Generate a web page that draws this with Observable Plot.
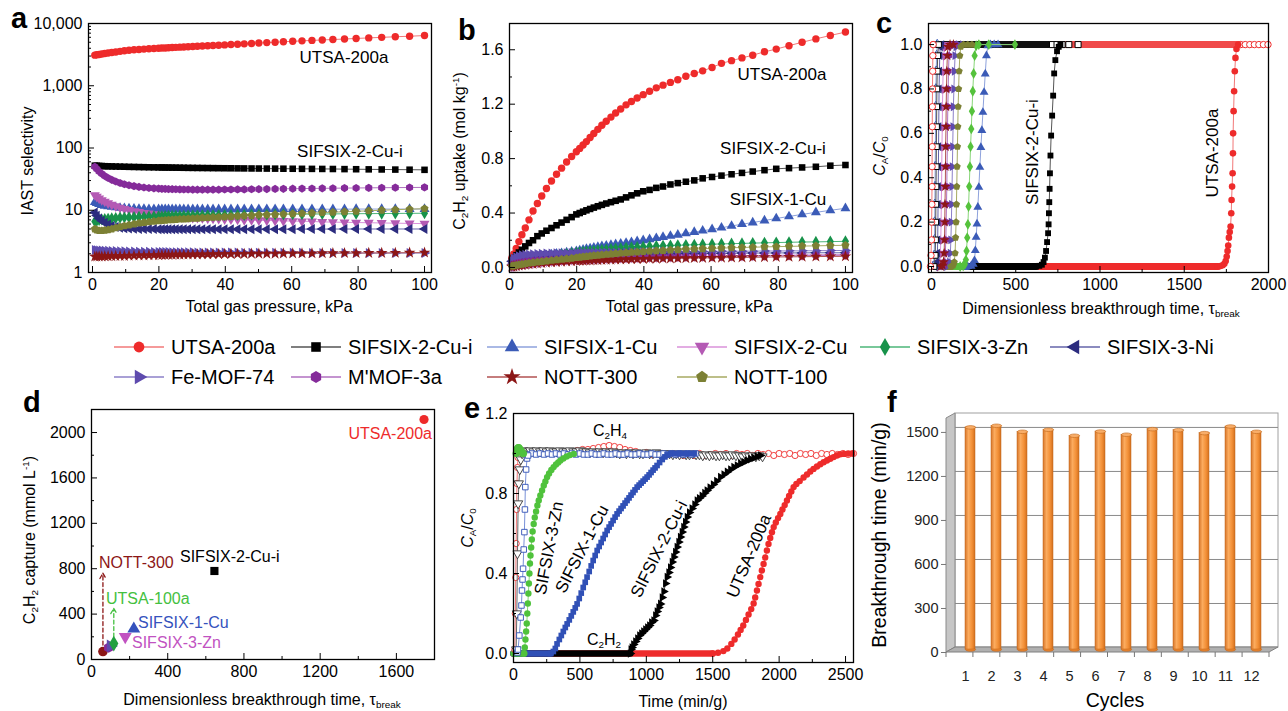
<!DOCTYPE html>
<html>
<head>
<meta charset="utf-8">
<script src="https://cdn.jsdelivr.net/npm/d3@7"></script>
<script src="https://cdn.jsdelivr.net/npm/@observablehq/plot@0.6"></script>
<style>
  html, body { margin: 0; padding: 0; background: #fff; }
  #fig { position: relative; width: 1288px; height: 711px; overflow: hidden;
         font-family: "Liberation Sans", Arial, Helvetica, sans-serif; color: #000; }
  .panel { position: absolute; }
  .panel svg { overflow: visible; }
  .lab { position: absolute; white-space: nowrap; line-height: 1; }
  .lab sub { font-size: 0.62em; vertical-align: -0.28em; line-height: 0; }
  .lab sup { font-size: 0.62em; vertical-align: 0.62em; line-height: 0; }
</style>
</head>
<body>
<div id="fig"></div>
<script>
// ---------------------------------------------------------------------------
// Materials shown in panels a-c and the legend
const materials = ["UTSA-200a", "SIFSIX-2-Cu-i", "SIFSIX-1-Cu", "SIFSIX-2-Cu", "SIFSIX-3-Zn",
                   "SIFSIX-3-Ni", "Fe-MOF-74", "M'MOF-3a", "NOTT-300", "NOTT-100"];

// Total gas pressure grid (kPa) used by the IAST calculations (panels a, b)
const pressure = [0.7, 1.3, 2, 2.8, 3.7, 4.7, 5.8, 7, 8.3, 9.6,
  11, 12.5, 14, 15.5, 17, 18.5, 19.9, 20.9, 21.9, 22.9,
  24, 25.1, 26.3, 27.5, 28.8, 30.2, 31.6, 33.1, 34.7, 36.3,
  38, 39.8, 41.7, 43.7, 45.7, 47.9, 50.1, 52.5, 55, 57.5,
  60.3, 63.1, 66.1, 69.2, 72.4, 75.9, 79.4, 83.2, 87.1, 91.2,
  95.5, 100];

// Panel a: IAST C2H2/C2H4 selectivity
const selectivityUTSA200a = [3100, 3140, 3180, 3230, 3290, 3350, 3420, 3490, 3570, 3650,
  3720, 3780, 3830, 3880, 3920, 3960, 4000, 4030, 4050, 4080,
  4110, 4140, 4170, 4200, 4230, 4270, 4310, 4350, 4390, 4430,
  4480, 4530, 4590, 4650, 4710, 4780, 4850, 4930, 5010, 5090,
  5180, 5260, 5350, 5440, 5530, 5630, 5750, 5870, 5990, 6120,
  6250, 6400];
const selectivitySIFSIX2Cui = [52, 51.8, 51.5, 51.3, 51, 50.8, 50.6, 50.4, 50.2, 50,
  49.8, 49.6, 49.4, 49.2, 49, 48.9, 48.8, 48.7, 48.6, 48.5,
  48.4, 48.3, 48.2, 48.1, 48, 47.9, 47.8, 47.7, 47.6, 47.5,
  47.4, 47.3, 47.2, 47.1, 47, 46.9, 46.8, 46.7, 46.6, 46.5,
  46.4, 46.3, 46.2, 46.1, 46, 45.8, 45.6, 45.4, 45.2, 45,
  44.8, 44.6];
const selectivitySIFSIX1Cu = [13.5, 13, 12.5, 12.1, 11.8, 11.5, 11.3, 11.1, 10.9, 10.8,
  10.7, 10.6, 10.5, 10.5, 10.4, 10.4, 10.4, 10.4, 10.4, 10.4,
  10.35, 10.35, 10.35, 10.35, 10.35, 10.35, 10.35, 10.35, 10.35, 10.35,
  10.35, 10.35, 10.35, 10.35, 10.4, 10.4, 10.4, 10.4, 10.4, 10.4,
  10.4, 10.4, 10.4, 10.4, 10.4, 10.4, 10.45, 10.45, 10.45, 10.45,
  10.45, 10.45];
const selectivitySIFSIX2Cu = [17.5, 16.5, 15.5, 14.6, 13.8, 13, 12.3, 11.6, 11, 10.5,
  10.1, 9.7, 9.4, 9.1, 8.9, 8.7, 8.5, 8.4, 8.3, 8.2,
  8.1, 8, 7.9, 7.8, 7.7, 7.6, 7.55, 7.5, 7.4, 7.35,
  7.3, 7.2, 7.15, 7.1, 7, 6.95, 6.9, 6.85, 6.8, 6.75,
  6.7, 6.65, 6.6, 6.5, 6.45, 6.4, 6.35, 6.3, 6.25, 6.2,
  6.15, 6.1];
const selectivitySIFSIX3Zn = [6.6, 6.8, 7, 7.1, 7.2, 7.3, 7.4, 7.5, 7.6, 7.65,
  7.7, 7.75, 7.8, 7.85, 7.9, 7.95, 8, 8, 8.02, 8.05,
  8.07, 8.1, 8.12, 8.15, 8.17, 8.2, 8.22, 8.25, 8.28, 8.3,
  8.33, 8.36, 8.39, 8.42, 8.45, 8.48, 8.5, 8.53, 8.56, 8.59,
  8.62, 8.65, 8.68, 8.71, 8.74, 8.77, 8.8, 8.83, 8.86, 8.89,
  8.92, 8.95];
const selectivitySIFSIX3Ni = [9.2, 8.2, 7.4, 6.8, 6.3, 5.9, 5.6, 5.4, 5.25, 5.15,
  5.1, 5.05, 5, 5, 5, 4.98, 4.97, 4.96, 4.95, 4.95,
  4.95, 4.95, 4.95, 4.95, 4.95, 4.95, 4.95, 4.95, 4.95, 4.95,
  4.95, 4.95, 4.95, 4.95, 4.95, 4.96, 4.96, 4.96, 4.97, 4.97,
  4.97, 4.98, 4.98, 4.98, 4.99, 4.99, 5, 5, 5, 5,
  5, 5];
const selectivityFeMOF74 = [2.3, 2.28, 2.26, 2.25, 2.24, 2.23, 2.22, 2.21, 2.2, 2.19,
  2.18, 2.17, 2.16, 2.15, 2.15, 2.14, 2.14, 2.13, 2.13, 2.13,
  2.12, 2.12, 2.12, 2.11, 2.11, 2.11, 2.1, 2.1, 2.1, 2.1,
  2.09, 2.09, 2.09, 2.09, 2.08, 2.08, 2.08, 2.08, 2.07, 2.07,
  2.07, 2.07, 2.06, 2.06, 2.06, 2.06, 2.06, 2.05, 2.05, 2.05,
  2.05, 2.05];
const selectivityMMOF3a = [50, 46, 42, 38.5, 35.5, 33, 30.8, 29, 27.4, 26.2,
  25.2, 24.4, 23.7, 23.2, 22.8, 22.5, 22.3, 22.1, 22, 21.9,
  21.8, 21.7, 21.6, 21.5, 21.5, 21.4, 21.4, 21.4, 21.4, 21.4,
  21.4, 21.5, 21.5, 21.6, 21.6, 21.7, 21.8, 21.9, 22, 22.1,
  22.2, 22.3, 22.4, 22.5, 22.6, 22.7, 22.8, 22.9, 23, 23.1,
  23.2, 23.3];
const selectivityNOTT300 = [1.8, 1.8, 1.81, 1.81, 1.82, 1.82, 1.83, 1.84, 1.85, 1.85,
  1.86, 1.87, 1.88, 1.88, 1.89, 1.9, 1.9, 1.91, 1.91, 1.92,
  1.92, 1.93, 1.93, 1.94, 1.94, 1.95, 1.95, 1.96, 1.96, 1.97,
  1.97, 1.98, 1.98, 1.99, 1.99, 2, 2, 2.01, 2.01, 2.02,
  2.02, 2.03, 2.03, 2.04, 2.04, 2.05, 2.05, 2.06, 2.06, 2.07,
  2.08, 2.09];
const selectivityNOTT100 = [5, 4.8, 4.7, 4.7, 4.75, 4.85, 5, 5.2, 5.4, 5.6,
  5.8, 6, 6.2, 6.35, 6.5, 6.65, 6.75, 6.85, 6.9, 7,
  7.05, 7.1, 7.2, 7.25, 7.3, 7.4, 7.45, 7.55, 7.6, 7.7,
  7.75, 7.85, 7.95, 8.05, 8.15, 8.25, 8.35, 8.45, 8.55, 8.65,
  8.75, 8.9, 9, 9.15, 9.3, 9.45, 9.6, 9.8, 10, 10.2,
  10.4, 10.6];

// Panel b: C2H2 uptake (mol/kg) from the 1/99 C2H2/C2H4 mixture
const uptakeUTSA200a = [0.07, 0.1, 0.14, 0.19, 0.24, 0.29, 0.35, 0.415, 0.47, 0.525,
  0.58, 0.635, 0.685, 0.73, 0.775, 0.815, 0.85, 0.875, 0.9, 0.925,
  0.955, 0.985, 1.015, 1.045, 1.075, 1.105, 1.135, 1.165, 1.195, 1.22,
  1.245, 1.27, 1.295, 1.32, 1.34, 1.36, 1.38, 1.405, 1.425, 1.445,
  1.47, 1.5, 1.52, 1.54, 1.56, 1.585, 1.605, 1.63, 1.655, 1.68,
  1.705, 1.73];
const uptakeSIFSIX2Cui = [0.05, 0.07, 0.09, 0.11, 0.13, 0.155, 0.18, 0.2, 0.23, 0.25,
  0.27, 0.29, 0.31, 0.33, 0.35, 0.37, 0.39, 0.4, 0.41, 0.42,
  0.43, 0.44, 0.45, 0.46, 0.47, 0.48, 0.49, 0.5, 0.515, 0.53,
  0.545, 0.56, 0.57, 0.585, 0.595, 0.61, 0.62, 0.63, 0.64, 0.655,
  0.665, 0.675, 0.685, 0.695, 0.705, 0.715, 0.725, 0.73, 0.735, 0.74,
  0.748, 0.753];
const uptakeSIFSIX1Cu = [0.04, 0.045, 0.05, 0.055, 0.06, 0.065, 0.07, 0.075, 0.08, 0.085,
  0.09, 0.095, 0.1, 0.105, 0.11, 0.115, 0.12, 0.125, 0.13, 0.135,
  0.14, 0.145, 0.15, 0.155, 0.16, 0.165, 0.17, 0.175, 0.18, 0.186,
  0.192, 0.2, 0.207, 0.215, 0.223, 0.232, 0.24, 0.25, 0.26, 0.27,
  0.28, 0.292, 0.305, 0.318, 0.33, 0.345, 0.36, 0.375, 0.39, 0.405,
  0.42, 0.435];
const uptakeSIFSIX2Cu = [0.005, 0.008, 0.012, 0.016, 0.02, 0.024, 0.028, 0.032, 0.036, 0.04,
  0.043, 0.046, 0.049, 0.052, 0.055, 0.057, 0.059, 0.061, 0.062, 0.063,
  0.064, 0.065, 0.066, 0.067, 0.068, 0.069, 0.07, 0.071, 0.072, 0.073,
  0.074, 0.075, 0.076, 0.077, 0.078, 0.079, 0.08, 0.081, 0.082, 0.083,
  0.084, 0.085, 0.086, 0.087, 0.088, 0.089, 0.09, 0.091, 0.092, 0.093,
  0.094, 0.095];
const uptakeSIFSIX3Zn = [0.02, 0.025, 0.03, 0.035, 0.04, 0.045, 0.05, 0.056, 0.062, 0.068,
  0.074, 0.08, 0.086, 0.092, 0.098, 0.103, 0.108, 0.111, 0.114, 0.117,
  0.12, 0.123, 0.126, 0.129, 0.132, 0.135, 0.138, 0.141, 0.144, 0.147,
  0.15, 0.152, 0.155, 0.157, 0.159, 0.161, 0.163, 0.165, 0.167, 0.169,
  0.171, 0.173, 0.175, 0.177, 0.179, 0.181, 0.183, 0.185, 0.187, 0.188,
  0.19, 0.192];
const uptakeSIFSIX3Ni = [0.045, 0.055, 0.063, 0.07, 0.075, 0.079, 0.082, 0.085, 0.087, 0.089,
  0.09, 0.091, 0.092, 0.093, 0.094, 0.095, 0.095, 0.096, 0.096, 0.097,
  0.097, 0.098, 0.098, 0.099, 0.099, 0.1, 0.1, 0.1, 0.101, 0.101,
  0.101, 0.102, 0.102, 0.102, 0.103, 0.103, 0.103, 0.104, 0.104, 0.104,
  0.105, 0.105, 0.105, 0.106, 0.106, 0.106, 0.107, 0.107, 0.107, 0.108,
  0.108, 0.108];
const uptakeFeMOF74 = [0.05, 0.065, 0.075, 0.083, 0.089, 0.093, 0.096, 0.098, 0.1, 0.101,
  0.102, 0.103, 0.104, 0.105, 0.105, 0.106, 0.106, 0.107, 0.107, 0.108,
  0.108, 0.109, 0.109, 0.11, 0.11, 0.111, 0.111, 0.112, 0.112, 0.113,
  0.113, 0.114, 0.114, 0.115, 0.115, 0.116, 0.116, 0.117, 0.117, 0.118,
  0.118, 0.119, 0.119, 0.12, 0.12, 0.121, 0.121, 0.122, 0.122, 0.123,
  0.124, 0.125];
const uptakeMMOF3a = [0.02, 0.025, 0.03, 0.034, 0.038, 0.042, 0.045, 0.048, 0.051, 0.053,
  0.055, 0.057, 0.059, 0.06, 0.061, 0.062, 0.063, 0.064, 0.065, 0.066,
  0.067, 0.067, 0.068, 0.069, 0.07, 0.07, 0.071, 0.072, 0.072, 0.073,
  0.074, 0.074, 0.075, 0.076, 0.076, 0.077, 0.078, 0.078, 0.079, 0.08,
  0.08, 0.081, 0.082, 0.083, 0.083, 0.084, 0.085, 0.086, 0.087, 0.088,
  0.089, 0.09];
const uptakeNOTT300 = [0.005, 0.008, 0.011, 0.014, 0.017, 0.02, 0.023, 0.026, 0.029, 0.032,
  0.035, 0.038, 0.04, 0.042, 0.044, 0.046, 0.048, 0.049, 0.05, 0.051,
  0.052, 0.053, 0.054, 0.055, 0.056, 0.057, 0.058, 0.059, 0.06, 0.061,
  0.062, 0.063, 0.064, 0.065, 0.066, 0.066, 0.067, 0.068, 0.069, 0.07,
  0.071, 0.072, 0.073, 0.074, 0.075, 0.076, 0.077, 0.078, 0.079, 0.08,
  0.081, 0.082];
const uptakeNOTT100 = [0.01, 0.013, 0.016, 0.02, 0.024, 0.028, 0.032, 0.036, 0.04, 0.044,
  0.048, 0.052, 0.056, 0.06, 0.064, 0.068, 0.072, 0.075, 0.078, 0.081,
  0.084, 0.087, 0.09, 0.093, 0.096, 0.099, 0.102, 0.105, 0.108, 0.111,
  0.114, 0.117, 0.12, 0.123, 0.125, 0.128, 0.13, 0.133, 0.135, 0.138,
  0.14, 0.142, 0.145, 0.147, 0.149, 0.151, 0.153, 0.155, 0.157, 0.159,
  0.161, 0.163];

// Panel c: simulated C2H2 breakthrough [tau, C/C0]; the first pair is the column start
const breakUTSA200a = [[0, 0], [1700, 0], [1715, 0.002], [1728, 0.006], [1738, 0.012], [1746, 0.025], [1752, 0.045],
  [1757, 0.07], [1761, 0.095], [1765, 0.13], [1770, 0.155], [1775, 0.18], [1779, 0.24], [1781, 0.3], [1784, 0.36],
  [1787, 0.42], [1789, 0.51], [1790, 0.6], [1793, 0.7], [1796, 0.79], [1800, 0.88], [1804, 0.94], [1810, 0.98], [1820, 1]];
const breakSIFSIX2Cui = [[0, 0], [620, 0], [640, 0.003], [655, 0.008], [665, 0.02], [673, 0.04], [680, 0.07], [686, 0.11],
  [692, 0.15], [695, 0.19], [697, 0.24], [699, 0.29], [701, 0.35], [703, 0.42], [706, 0.5], [710, 0.59], [716, 0.68],
  [722, 0.77], [728, 0.87], [735, 0.93], [745, 0.97], [755, 0.99], [765, 1]];
const breakSIFSIX1Cu = [[0, 0], [215, 0], [235, 0.002], [248, 0.01], [255, 0.027], [260, 0.072], [265, 0.132], [270, 0.192],
  [275, 0.267], [281, 0.357], [287, 0.447], [293, 0.537], [299, 0.613], [305, 0.695], [312, 0.785], [319, 0.868],
  [326, 0.95], [335, 0.995], [350, 1], [372, 1], [395, 1]];
const breakSIFSIX2Cu = [[0, 0], [35, 0], [45, 0.005], [50, 0.02], [53, 0.06], [55, 0.12], [57, 0.2], [58, 0.28], [60, 0.36],
  [61, 0.45], [62, 0.54], [64, 0.63], [65, 0.72], [67, 0.8], [69, 0.88], [72, 0.95], [76, 0.99], [90, 1]];
const breakSIFSIX3Zn = [[0, 0], [170, 0], [188, 0.003], [198, 0.01], [204, 0.03], [208, 0.07], [212, 0.13], [216, 0.19],
  [220, 0.27], [224, 0.36], [228, 0.45], [232, 0.54], [236, 0.62], [240, 0.7], [245, 0.79], [250, 0.87], [256, 0.95],
  [265, 0.995], [281, 1], [340, 1], [495, 1]];
const breakSIFSIX3Ni = [[0, 0], [20, 0], [28, 0.005], [32, 0.02], [35, 0.06], [37, 0.12], [38, 0.2], [39, 0.28], [40, 0.36],
  [41, 0.45], [42, 0.54], [43, 0.63], [44, 0.72], [45, 0.8], [47, 0.88], [49, 0.95], [52, 0.99], [60, 1]];
const breakFeMOF74 = [[0, 0], [90, 0], [102, 0.005], [108, 0.02], [112, 0.06], [115, 0.12], [118, 0.2], [120, 0.28],
  [122, 0.36], [124, 0.45], [126, 0.54], [128, 0.63], [130, 0.72], [133, 0.8], [136, 0.88], [140, 0.95], [146, 0.99],
  [160, 1], [185, 1]];
const breakMMOF3a = [[0, 0], [60, 0], [72, 0.005], [78, 0.02], [82, 0.06], [85, 0.12], [87, 0.2], [89, 0.28], [91, 0.36],
  [92, 0.45], [94, 0.54], [95, 0.63], [97, 0.72], [99, 0.8], [101, 0.88], [104, 0.95], [108, 0.99], [120, 1], [140, 1]];
const breakNOTT300 = [[0, 0], [55, 0], [66, 0.005], [72, 0.02], [75, 0.06], [77, 0.12], [79, 0.2], [80, 0.28], [82, 0.36],
  [83, 0.45], [84, 0.54], [86, 0.63], [87, 0.72], [89, 0.8], [91, 0.88], [94, 0.95], [98, 0.99], [110, 1], [130, 1]];
const breakNOTT100 = [[0, 0], [115, 0], [128, 0.005], [135, 0.02], [140, 0.06], [143, 0.13], [146, 0.2], [148, 0.28],
  [150, 0.36], [152, 0.45], [154, 0.54], [156, 0.63], [158, 0.72], [161, 0.8], [164, 0.88], [168, 0.95], [174, 0.99],
  [190, 1], [215, 1], [240, 1]];
// C2H4 outlet in panel c: early rise, dense plateau stretch, later plateau points
const ethRiseUTSA200a = [[-6, 0], [-3, 0.05], [0, 0.12], [1, 0.2], [2, 0.28], [3, 0.36], [3.5, 0.45], [4, 0.54],
  [4.5, 0.63], [5, 0.72], [6, 0.8], [7, 0.88], [8, 0.95], [10, 1]];
const ethRiseSIFSIX1Cu = [[10, 0], [16, 0.05], [18, 0.12], [19, 0.2], [20, 0.28], [21, 0.36], [22, 0.45], [23, 0.54],
  [24, 0.63], [25, 0.72], [26, 0.8], [28, 0.88], [30, 0.95], [34, 1]];
const ethRiseSIFSIX2Cui = [[15, 0], [22, 0.05], [24, 0.12], [25, 0.2], [26, 0.28], [27, 0.36], [28, 0.45], [29, 0.54],
  [30, 0.63], [31, 0.72], [32, 0.8], [34, 0.88], [37, 0.95], [42, 1]];
const ethPlateauUTSA200a = [[10, 1], [1820, 1]];
const ethTailUTSA200a = [[1835, 1], [1862, 1], [1889, 1], [1916, 1], [1943, 1], [1970, 1], [1997, 1]];
const ethPlateauSIFSIX2Cui = [[42, 1], [705, 1]];
const ethTailSIFSIX2Cui = [[718, 1], [745, 1], [775, 1], [815, 1], [870, 1]];

// Panel d: C2H2 capture vs breakthrough time
const captureMaterials = ["UTSA-200a", "SIFSIX-2-Cu-i", "SIFSIX-1-Cu", "SIFSIX-3-Zn", "NOTT-300", "M'MOF-3a", "Fe-MOF-74", "UTSA-100a"];
const captureTau = [1745, 645, 222, 177, 60, 90, 100, 117];
const captureAmount = [2115, 780, 270, 200, 70, 105, 120, 140];
const arrowMaterials = ["NOTT-300", "UTSA-100a"];
const arrowTau = [60, 117];
const arrowFrom = [70, 140];
const arrowTo = [760, 450];

// Panel e: experimental breakthrough [time (min/g), C/C0]; first pair is the column start
const expUTSA200a = [[0, 0], [1500, 0], [1540, 0.004], [1580, 0.012], [1610, 0.025], [1640, 0.048], [1665, 0.07],
  [1690, 0.095], [1710, 0.118], [1730, 0.14], [1750, 0.168], [1770, 0.195], [1790, 0.222], [1808, 0.25], [1820, 0.28],
  [1833, 0.315], [1845, 0.348], [1858, 0.382], [1870, 0.415], [1883, 0.448], [1895, 0.48], [1908, 0.515], [1920, 0.548],
  [1933, 0.578], [1946, 0.606], [1959, 0.632], [1975, 0.655], [1992, 0.677], [2009, 0.698], [2025, 0.72], [2042, 0.742],
  [2059, 0.765], [2075, 0.788], [2092, 0.81], [2109, 0.832], [2130, 0.848], [2155, 0.862], [2184, 0.88], [2210, 0.895],
  [2235, 0.91], [2259, 0.923], [2285, 0.935], [2310, 0.946], [2335, 0.956], [2360, 0.965], [2385, 0.974], [2410, 0.982],
  [2435, 0.99], [2460, 0.996], [2490, 0.998], [2520, 1], [2550, 1]];
const expSIFSIX2Cui = [[0, 0], [880, 0], [885, 0.02], [893, 0.03], [905, 0.045], [920, 0.06], [935, 0.075], [950, 0.09],
  [965, 0.1], [980, 0.11], [995, 0.12], [1010, 0.13], [1025, 0.14], [1040, 0.155], [1057, 0.165], [1070, 0.19],
  [1082, 0.21], [1095, 0.23], [1107, 0.248], [1120, 0.28], [1132, 0.31], [1145, 0.35], [1157, 0.382], [1170, 0.405],
  [1182, 0.43], [1195, 0.457], [1207, 0.482], [1220, 0.507], [1232, 0.532], [1245, 0.557], [1257, 0.582], [1270, 0.607],
  [1282, 0.632], [1295, 0.657], [1308, 0.682], [1325, 0.705], [1345, 0.725], [1365, 0.745], [1383, 0.765], [1400, 0.776],
  [1420, 0.788], [1440, 0.802], [1458, 0.815], [1480, 0.83], [1505, 0.845], [1530, 0.862], [1559, 0.882], [1585, 0.895],
  [1610, 0.908], [1635, 0.92], [1659, 0.932], [1685, 0.94], [1710, 0.95], [1735, 0.957], [1760, 0.965], [1785, 0.972],
  [1810, 0.978], [1835, 0.985], [1860, 0.99]];
const expSIFSIX1Cu = [[0, 0], [280, 0], [300, 0.01], [315, 0.025], [328, 0.048], [345, 0.07], [360, 0.09], [375, 0.11],
  [390, 0.13], [404, 0.148], [420, 0.168], [435, 0.188], [450, 0.208], [465, 0.228], [479, 0.248], [495, 0.275],
  [510, 0.302], [525, 0.33], [540, 0.356], [554, 0.382], [570, 0.41], [585, 0.438], [600, 0.465], [615, 0.49],
  [630, 0.515], [645, 0.535], [660, 0.555], [675, 0.575], [690, 0.595], [705, 0.615], [720, 0.632], [735, 0.648],
  [750, 0.665], [765, 0.682], [780, 0.698], [795, 0.712], [810, 0.725], [825, 0.738], [840, 0.752], [855, 0.765],
  [870, 0.778], [885, 0.792], [900, 0.805], [915, 0.818], [931, 0.832], [946, 0.842], [961, 0.852], [976, 0.862],
  [991, 0.872], [1006, 0.882], [1021, 0.893], [1036, 0.905], [1051, 0.917], [1066, 0.928], [1081, 0.94], [1100, 0.955],
  [1120, 0.97], [1140, 0.983], [1160, 0.993], [1182, 1], [1200, 1], [1220, 1], [1240, 1], [1260, 1], [1280, 1],
  [1300, 1], [1320, 1], [1340, 1], [1360, 1]];
const expSIFSIX3Zn = [[0, 0], [80, 0], [85, 0.03], [90, 0.07], [95, 0.11], [100, 0.15], [104, 0.2], [108, 0.25],
  [112, 0.3], [116, 0.35], [120, 0.4], [124, 0.45], [128, 0.49], [133, 0.53], [138, 0.57], [144, 0.61], [152, 0.648],
  [160, 0.68], [170, 0.71], [180, 0.74], [190, 0.765], [202, 0.79], [215, 0.815], [228, 0.84], [240, 0.86], [253, 0.882],
  [268, 0.9], [285, 0.918], [302, 0.932], [320, 0.945], [337, 0.955], [353, 0.965], [375, 0.975], [400, 0.985],
  [425, 0.992], [454, 0.998]];
// C2H4 outlet in panel e
const expEthUTSA200a = [[40, 1], [80, 1.01], [120, 1.01], [160, 1], [200, 1.01], [240, 1], [280, 1.01], [320, 1.005],
  [360, 1.01], [400, 1.005], [440, 1.01], [480, 1.015], [520, 1.02], [560, 1.02], [600, 1.025], [640, 1.03], [680, 1.035],
  [720, 1.04], [760, 1.035], [800, 1.03], [840, 1.02], [880, 1.015], [920, 1.01], [960, 1], [1000, 1.005], [1040, 0.995],
  [1080, 1], [1120, 1], [1160, 0.995], [1200, 1], [1240, 0.995], [1280, 0.99], [1320, 0.995], [1360, 0.99], [1400, 1],
  [1440, 0.99], [1480, 0.995], [1520, 1], [1560, 0.995], [1600, 1], [1640, 0.99], [1680, 1], [1720, 0.995], [1760, 1],
  [1800, 0.99], [1840, 1], [1880, 0.995], [1920, 1], [1960, 0.99], [2000, 1], [2040, 0.995], [2080, 1], [2120, 0.99],
  [2160, 1], [2200, 0.995], [2240, 1], [2280, 0.99], [2320, 1], [2360, 0.995], [2400, 1], [2440, 0.995], [2480, 1],
  [2520, 0.995], [2560, 1]];
const expEthSIFSIX2Cui = [[50, 1.01], [75, 1.015], [100, 1.01], [125, 1.015], [150, 1.01], [175, 1.015], [200, 1.01],
  [225, 1.015], [250, 1.01], [275, 1.015], [300, 1.01], [325, 1.01], [350, 1.015], [375, 1.01], [400, 1.01], [425, 1.015],
  [450, 1.01], [475, 1.01], [500, 1.015], [525, 1.01], [550, 1.01], [575, 1.005], [600, 1.01], [625, 1.005], [650, 1.01],
  [675, 1.005], [700, 1.01], [725, 1.005], [750, 1.01], [775, 1.005], [800, 1], [825, 1.005], [850, 1], [875, 1.005],
  [900, 1], [925, 1.005], [950, 1], [975, 1], [1000, 1.005], [1025, 1], [1050, 1], [1075, 1.005], [1100, 1], [1125, 1],
  [1150, 1], [1175, 1], [1200, 0.995], [1225, 1], [1250, 0.995], [1275, 1], [1300, 0.995], [1325, 0.995], [1350, 1],
  [1375, 0.995], [1400, 0.995], [1425, 0.99], [1450, 0.995], [1475, 0.99], [1500, 0.995], [1525, 0.99], [1550, 0.99],
  [1575, 0.995], [1600, 0.99], [1625, 0.99], [1650, 0.995], [1675, 0.99], [1700, 0.99], [1725, 0.985], [1750, 0.99],
  [1775, 0.985], [1800, 0.99], [1825, 0.985], [1850, 0.99], [1875, 0.985]];
const expEthSIFSIX1Cu = [[110, 0.995], [140, 1], [170, 0.995], [200, 1], [230, 0.995], [260, 1], [290, 0.995], [320, 1],
  [350, 0.995], [380, 1], [410, 0.995], [440, 1], [470, 0.995], [500, 1], [530, 0.995], [560, 0.995], [590, 1],
  [620, 0.995], [650, 0.995], [680, 1], [710, 0.995], [740, 0.995], [770, 1], [800, 0.995], [830, 0.995], [860, 1],
  [890, 0.995], [920, 0.995], [950, 1], [980, 0.995], [1010, 0.995], [1040, 1], [1070, 0.995], [1100, 0.995], [1130, 1],
  [1160, 0.995], [1190, 1], [1220, 0.995], [1250, 1], [1280, 0.995], [1310, 1], [1340, 0.995], [1370, 1]];
const expEthRiseUTSA200a = [[10, 0.02], [14, 0.2], [17, 0.38], [20, 0.55], [23, 0.72], [26, 0.85], [30, 0.93], [34, 0.98]];
const expEthRiseSIFSIX1Cu = [[30, 0.005], [34, 0.02], [44, 0.09], [54, 0.18], [60, 0.24], [64, 0.315], [68, 0.37],
  [72, 0.424], [77, 0.52], [82, 0.607], [86, 0.72], [89, 0.832], [95, 0.92], [102, 0.975], [110, 0.99]];
const expEthRiseSIFSIX2Cui = [[20, 0.02], [25, 0.2], [30, 0.5], [35, 0.75], [40, 0.85], [47, 0.92], [55, 0.97], [65, 1]];
const expEthSIFSIX3Zn = [[20, 1], [25, 1.02], [30, 1.025], [35, 1.03], [40, 1.03], [45, 1.025], [50, 1.02], [55, 1.015],
  [60, 1.01], [65, 1.005], [70, 1], [75, 1]];

// Panel f: UTSA-200a breakthrough time over repeated cycles
const cycles = [1, 2, 3, 4, 5, 6, 7, 8, 9, 10, 11, 12];
const cycleBreakthrough = [1514, 1525, 1484, 1498, 1457, 1486, 1464, 1502, 1495, 1475, 1520, 1484];

// Axis ticks
const pressureTicks = [0, 20, 40, 60, 80, 100];
const pressureMinor = [10, 30, 50, 70, 90];
const selectivityTicks = [1, 10, 100, 1000, 10000];
const selectivityMinor = [2, 3, 4, 5, 6, 7, 8, 9, 20, 30, 40, 50, 60, 70, 80, 90, 200, 300, 400, 500, 600, 700, 800, 900,
  2000, 3000, 4000, 5000, 6000, 7000, 8000, 9000];
const uptakeTicks = [0, 0.4, 0.8, 1.2, 1.6];
const uptakeMinor = [0.2, 0.6, 1.0, 1.4];
const tauTicks = [0, 500, 1000, 1500, 2000];
const tauMinor = [250, 750, 1250, 1750];
const ratioTicks = [0, 0.2, 0.4, 0.6, 0.8, 1.0];
const ratioMinor = [0.1, 0.3, 0.5, 0.7, 0.9];
const captureXTicks = [0, 400, 800, 1200, 1600];
const captureXMinor = [200, 600, 1000, 1400];
const captureYTicks = [0, 400, 800, 1200, 1600, 2000];
const captureYMinor = [200, 600, 1000, 1400, 1800];
const timeTicks = [0, 500, 1000, 1500, 2000, 2500];
const timeMinor = [250, 750, 1250, 1750, 2250];
const expRatioTicks = [0, 0.4, 0.8, 1.2];
const expRatioMinor = [0.2, 0.6, 1.0];
const cycleTimeTicks = [0, 300, 600, 900, 1200, 1500];

// ---------------------------------------------------------------------------
// Styling
const FONT = '"Liberation Sans", Arial, Helvetica, sans-serif';
const baseStyle = {fontFamily: FONT, fontSize: "16px", background: "transparent", overflow: "visible", color: "#000"};

// pointy-top hexagon and pentagon marker shapes
const hexagonSymbol = {draw(ctx, size) {
  const R = Math.sqrt(size / 2.598);
  for (let k = 0; k < 6; ++k) { const a = -Math.PI / 2 + k * Math.PI / 3; const x = R * Math.cos(a), y = R * Math.sin(a); k ? ctx.lineTo(x, y) : ctx.moveTo(x, y); }
  ctx.closePath();
}};
const pentagonSymbol = {draw(ctx, size) {
  const R = Math.sqrt(size / 2.378);
  for (let k = 0; k < 5; ++k) { const a = -Math.PI / 2 + k * 2 * Math.PI / 5; const x = R * Math.cos(a), y = R * Math.sin(a); k ? ctx.lineTo(x, y) : ctx.moveTo(x, y); }
  ctx.closePath();
}};
// flat ellipse for cylinder caps
const capSymbol = {draw(ctx, size) {
  const rx = Math.sqrt(size / Math.PI), ry = rx * 0.35, k = 0.5523;
  ctx.moveTo(rx, 0);
  ctx.bezierCurveTo(rx, ry * k, rx * k, ry, 0, ry);
  ctx.bezierCurveTo(-rx * k, ry, -rx, ry * k, -rx, 0);
  ctx.bezierCurveTo(-rx, -ry * k, -rx * k, -ry, 0, -ry);
  ctx.bezierCurveTo(rx * k, -ry, rx, -ry * k, rx, 0);
  ctx.closePath();
}};

const markerColors = ["#ee2b2b", "#000000", "#3b5bb7", "#b45ab4", "#17924a", "#2c2c7f", "#5e4bae", "#852b9a", "#8c1616", "#7c8034"];
const lineColors = ["#f27878", "#555555", "#8ea2dc", "#da92da", "#4db679", "#6464aa", "#8c80c8", "#b071c0", "#b25252", "#a7aa62"];
const symbols = [d3.symbolCircle, d3.symbolSquare, d3.symbolTriangle, d3.symbolTriangle, d3.symbolDiamond,
                 d3.symbolTriangle, d3.symbolTriangle, hexagonSymbol, d3.symbolStar, pentagonSymbol];
const rotations = [0, 0, 0, 180, 0, -90, 90, 0, 0, 0];

const fig = document.getElementById("fig");
function place(svg, left, top) {
  const d = document.createElement("div");
  d.className = "panel"; d.style.left = left + "px"; d.style.top = top + "px";
  d.appendChild(svg); fig.appendChild(d);
}
function note(html, x, y, o = {}) {
  const size = o.size || 16;
  const el = document.createElement("div");
  el.className = "lab"; el.innerHTML = html;
  el.style.fontSize = size + "px";
  if (o.color) el.style.color = o.color;
  if (o.weight) el.style.fontWeight = o.weight;
  el.style.left = x + "px"; el.style.top = y + "px";
  const tx = o.anchor === "start" ? "0%" : o.anchor === "end" ? "-100%" : "-50%";
  el.style.transform = `translate(${tx}, -50%)` + (o.rotate ? ` rotate(${o.rotate}deg)` : "");
  fig.appendChild(el);
}
const pairs = (arr) => arr.map(([t, c]) => ({t, c}));

// framed box with inward major/minor ticks and outside tick labels
function boxAxes({xMajor, xMinor, yMajor, yMinor, xFmt, yFmt}) {
  return [
    Plot.frame({stroke: "#000", strokeWidth: 1.3}),
    Plot.axisX(xMajor, {tickSize: 6, dy: -6, fill: "none", label: null}),
    Plot.axisX(xMinor, {tickSize: 3, dy: -3, fill: "none", label: null}),
    Plot.axisX(xMajor, {tickSize: 0, tickPadding: 6, tickFormat: xFmt, label: null}),
    Plot.axisY(yMajor, {tickSize: 6, dx: 6, fill: "none", label: null}),
    Plot.axisY(yMinor, {tickSize: 3, dx: 3, fill: "none", label: null}),
    Plot.axisY(yMajor, {tickSize: 0, tickPadding: 6, tickFormat: yFmt, label: null})
  ];
}

// isotherm-style series: thin connecting line plus a filled marker per point
function isothermMarks(valueSets, r) {
  const marks = [];
  materials.forEach((m, i) => {
    const rows = pressure.map((p, j) => ({p, v: valueSets[i][j]}));
    marks.push(Plot.line(rows, {x: "p", y: "v", stroke: lineColors[i], strokeWidth: 1}));
    marks.push(Plot.dot(rows, {x: "p", y: "v", symbol: symbols[i], rotate: rotations[i], fill: markerColors[i], r}));
  });
  return marks;
}

// ---------------------------------------------------------------------------
// Panel a
const selectivity = [selectivityUTSA200a, selectivitySIFSIX2Cui, selectivitySIFSIX1Cu, selectivitySIFSIX2Cu,
  selectivitySIFSIX3Zn, selectivitySIFSIX3Ni, selectivityFeMOF74, selectivityMMOF3a, selectivityNOTT300, selectivityNOTT100];
place(Plot.plot({
  width: 440, height: 300, marginLeft: 88, marginRight: 9, marginTop: 23, marginBottom: 28,
  style: baseStyle,
  x: {domain: [-1.2, 102.1]},
  y: {type: "log", domain: [1, 10000]},
  marks: [
    ...isothermMarks(selectivity, 3.7),
    ...boxAxes({xMajor: pressureTicks, xMinor: pressureMinor, yMajor: selectivityTicks, yMinor: selectivityMinor,
                xFmt: d3.format("d"), yFmt: d3.format(",")})
  ]
}), 0, 0);

// Panel b
const uptake = [uptakeUTSA200a, uptakeSIFSIX2Cui, uptakeSIFSIX1Cu, uptakeSIFSIX2Cu, uptakeSIFSIX3Zn,
  uptakeSIFSIX3Ni, uptakeFeMOF74, uptakeMMOF3a, uptakeNOTT300, uptakeNOTT100];
place(Plot.plot({
  width: 430, height: 300, marginLeft: 69, marginRight: 18, marginTop: 23, marginBottom: 28,
  style: baseStyle,
  x: {domain: [0, 102.1]},
  y: {domain: [-0.037, 1.793]},
  marks: [
    ...isothermMarks(uptake, 3.7),
    ...boxAxes({xMajor: pressureTicks, xMinor: pressureMinor, yMajor: uptakeTicks, yMinor: uptakeMinor,
                xFmt: d3.format("d"), yFmt: d3.format(".1f")})
  ]
}), 440, 0);

// Panel c
const breakthrough = [breakUTSA200a, breakSIFSIX2Cui, breakSIFSIX1Cu, breakSIFSIX2Cu, breakSIFSIX3Zn,
  breakSIFSIX3Ni, breakFeMOF74, breakMMOF3a, breakNOTT300, breakNOTT100];
const simColors = markerColors.map((c, i) => i === 4 ? "#55c23c" : c);
const simLines = lineColors.map((c, i) => i === 4 ? "#8ad67a" : c);
const cMarks = [
  Plot.line(pairs(ethPlateauUTSA200a), {x: "t", y: "c", stroke: "#f04a4a", strokeWidth: 7}),
  Plot.line(pairs(ethTailUTSA200a), {x: "t", y: "c", stroke: "#f27878", strokeWidth: 1}),
  Plot.dot(pairs(ethTailUTSA200a), {x: "t", y: "c", stroke: "#ee2b2b", fill: "#fff", r: 3.2, strokeWidth: 1}),
  Plot.line(pairs(ethPlateauSIFSIX2Cui), {x: "t", y: "c", stroke: "#111", strokeWidth: 7}),
  Plot.dot(pairs(ethTailSIFSIX2Cui), {x: "t", y: "c", symbol: "square", stroke: "#000", fill: "#fff", r: 3.4, strokeWidth: 1})
];
breakthrough.forEach((s, i) => {
  cMarks.push(Plot.line(pairs(s.slice(0, 2)), {x: "t", y: "c", stroke: simColors[i], strokeWidth: 7}));
});
breakthrough.forEach((s, i) => {
  const rise = pairs(s.slice(1));
  cMarks.push(Plot.line(rise, {x: "t", y: "c", stroke: simLines[i], strokeWidth: 1}));
  cMarks.push(Plot.dot(rise, {x: "t", y: "c", symbol: symbols[i], rotate: rotations[i], fill: simColors[i], r: 3.3}));
});
cMarks.push(
  Plot.line(pairs(ethRiseSIFSIX1Cu), {x: "t", y: "c", stroke: "#8ea2dc", strokeWidth: 1}),
  Plot.dot(pairs(ethRiseSIFSIX1Cu), {x: "t", y: "c", symbol: "triangle", stroke: "#3b5bb7", fill: "#fff", r: 3.4, strokeWidth: 1}),
  Plot.line(pairs(ethRiseSIFSIX2Cui), {x: "t", y: "c", stroke: "#555", strokeWidth: 1}),
  Plot.dot(pairs(ethRiseSIFSIX2Cui), {x: "t", y: "c", symbol: "square", stroke: "#000", fill: "#fff", r: 3.2, strokeWidth: 1}),
  Plot.line(pairs(ethRiseUTSA200a), {x: "t", y: "c", stroke: "#f27878", strokeWidth: 1}),
  Plot.dot(pairs(ethRiseUTSA200a), {x: "t", y: "c", stroke: "#ee2b2b", fill: "#fff", r: 3.2, strokeWidth: 1})
);
place(Plot.plot({
  width: 418, height: 300, marginLeft: 58, marginRight: 20, marginTop: 23, marginBottom: 28,
  style: baseStyle,
  x: {domain: [-17.8, 2000]},
  y: {domain: [-0.027, 1.095]},
  marks: [
    ...cMarks,
    ...boxAxes({xMajor: tauTicks, xMinor: tauMinor, yMajor: ratioTicks, yMinor: ratioMinor,
                xFmt: d3.format("d"), yFmt: d3.format(".1f")})
  ]
}), 870, 0);

// Panel d
const captureColors = ["#ee2b2b", "#000000", "#3552bd", "#c152c1", "#8c1616", "#852b9a", "#5e4bae", "#22a040"];
const captureSymbols = [d3.symbolCircle, d3.symbolSquare, d3.symbolTriangle, d3.symbolTriangle, d3.symbolCircle,
                        hexagonSymbol, d3.symbolTriangle, d3.symbolDiamond];
const captureRotate = [0, 0, 0, 180, 0, 0, 90, 0];
const captureRows = captureMaterials.map((m, i) => ({m, tau: captureTau[i], cap: captureAmount[i], i}));
const arrowRows = arrowMaterials.map((m, i) => ({m, tau: arrowTau[i], from: arrowFrom[i], to: arrowTo[i]}));
const arrowColors = ["#8c1616", "#44c040"];
place(Plot.plot({
  width: 445, height: 310, marginLeft: 91, marginRight: 11, marginTop: 19, marginBottom: 41,
  style: baseStyle,
  x: {domain: [0, 1800]},
  y: {domain: [0, 2203]},
  marks: [
    ...arrowRows.map((d, i) => Plot.arrow([d], {x1: "tau", x2: "tau", y1: "from", y2: "to", stroke: arrowColors[i],
      strokeWidth: 1.3, strokeDasharray: "4,2.5", headLength: 7})),
    ...captureRows.map((d) => Plot.dot([d], {x: "tau", y: "cap", symbol: captureSymbols[d.i], rotate: captureRotate[d.i],
      fill: captureColors[d.i], r: d.i < 2 ? 4.6 : 4.8})),
    ...boxAxes({xMajor: captureXTicks, xMinor: captureXMinor, yMajor: captureYTicks, yMinor: captureYMinor,
                xFmt: d3.format("d"), yFmt: d3.format("d")})
  ]
}), 0, 390);

// Panel e
const experiments = [expUTSA200a, expSIFSIX2Cui, expSIFSIX1Cu, expSIFSIX3Zn];
const expColors = ["#ee2b2b", "#000000", "#3050b6", "#4fc23c"];
const expLines = ["#f27878", "#444444", "#7890d8", "#8ad67a"];
const expSymbols = [d3.symbolCircle, d3.symbolTriangle, d3.symbolSquare, d3.symbolCircle];
const expRotate = [0, 90, 0, 0];
const eMarks = [
  Plot.line(pairs(expEthUTSA200a), {x: "t", y: "c", stroke: "#f27878", strokeWidth: 0.8}),
  Plot.dot(pairs(expEthUTSA200a), {x: "t", y: "c", stroke: "#ee2b2b", fill: "#fff", r: 3.1, strokeWidth: 0.9}),
  Plot.dot(pairs(expEthSIFSIX2Cui), {x: "t", y: "c", symbol: "triangle", rotate: 180, stroke: "#333", fill: "#fff", r: 3.4, strokeWidth: 0.9}),
  Plot.dot(pairs(expEthSIFSIX1Cu), {x: "t", y: "c", symbol: "square", stroke: "#3050b6", fill: "#fff", r: 3.1, strokeWidth: 0.9})
];
experiments.forEach((s, i) => {
  eMarks.push(Plot.line(pairs(s.slice(0, 2)), {x: "t", y: "c", stroke: expColors[i], strokeWidth: 6.5}));
});
experiments.forEach((s, i) => {
  const rise = pairs(s.slice(1));
  eMarks.push(Plot.line(rise, {x: "t", y: "c", stroke: expLines[i], strokeWidth: 1}));
  eMarks.push(Plot.dot(rise, {x: "t", y: "c", symbol: expSymbols[i], rotate: expRotate[i], fill: expColors[i], r: 3.2}));
});
eMarks.push(
  Plot.line(pairs(expEthRiseUTSA200a), {x: "t", y: "c", stroke: "#f27878", strokeWidth: 1}),
  Plot.dot(pairs(expEthRiseUTSA200a), {x: "t", y: "c", stroke: "#ee2b2b", fill: "#fff", r: 3.1, strokeWidth: 0.9}),
  Plot.line(pairs(expEthRiseSIFSIX2Cui), {x: "t", y: "c", stroke: "#666", strokeWidth: 1}),
  Plot.dot(pairs(expEthRiseSIFSIX2Cui), {x: "t", y: "c", symbol: "triangle", rotate: 180, stroke: "#333", fill: "#fff", r: 3.4, strokeWidth: 0.9}),
  Plot.line(pairs(expEthRiseSIFSIX1Cu), {x: "t", y: "c", stroke: "#7890d8", strokeWidth: 1}),
  Plot.dot(pairs(expEthRiseSIFSIX1Cu), {x: "t", y: "c", symbol: "square", stroke: "#3050b6", fill: "#fff", r: 3.1, strokeWidth: 0.9}),
  Plot.dot(pairs(expEthSIFSIX3Zn), {x: "t", y: "c", fill: "#4fc23c", r: 3.6})
);
place(Plot.plot({
  width: 420, height: 310, marginLeft: 68, marginRight: 12, marginTop: 23, marginBottom: 38,
  style: baseStyle,
  x: {domain: [0, 2560]},
  y: {domain: [-0.045, 1.2]},
  marks: [
    ...eMarks,
    ...boxAxes({xMajor: timeTicks, xMinor: timeMinor, yMajor: expRatioTicks, yMinor: expRatioMinor,
                xFmt: d3.format("d"), yFmt: d3.format(".1f")})
  ]
}), 445, 390);

// Panel f: pseudo-3D cylinder bar chart
const DX = 9, DY = -5;            // depth offset of the back wall
const BX = 5, BY = -3;            // bars stand mid-depth
const barRows = cycles.map((c, i) => ({cycle: c, time: cycleBreakthrough[i]}));
function box(dims) {
  return {x0: dims.marginLeft, x1: dims.width - dims.marginRight, y0: dims.marginTop, y1: dims.height - dims.marginBottom};
}
const wallsMark = (index, scales, values, dims) => {
  const {x0, x1, y0, y1} = box(dims);
  const g = d3.create("svg:g");
  g.append("rect").attr("x", x0 + DX).attr("y", y0 + DY).attr("width", x1 - x0).attr("height", y1 - y0)
    .attr("fill", "#fff").attr("stroke", "#a0a0a0");
  g.append("path").attr("d", `M${x0},${y1}L${x0 + DX},${y1 + DY}L${x0 + DX},${y0 + DY}L${x0},${y0}Z`)
    .attr("fill", "#c6c6c6").attr("stroke", "#8a8a8a");
  return g.node();
};
const floorMark = (index, scales, values, dims) => {
  const {x0, x1, y1} = box(dims);
  const g = d3.create("svg:g");
  g.append("path").attr("d", `M${x0},${y1}L${x1},${y1}L${x1 + DX},${y1 + DY}L${x0 + DX},${y1 + DY}Z`)
    .attr("fill", "#b0b0b0").attr("stroke", "#808080");
  const step = (x1 - x0) / cycles.length;
  for (let k = 0; k <= cycles.length; ++k) {
    g.append("line").attr("x1", x0 + k * step).attr("x2", x0 + k * step).attr("y1", y1).attr("y2", y1 + 5)
      .attr("stroke", "#777");
  }
  return g.node();
};
const svgF = Plot.plot({
  width: 423, height: 321, marginLeft: 81, marginRight: 19, marginTop: 28, marginBottom: 59,
  style: {...baseStyle, fontSize: "14.5px"},
  x: {type: "band", domain: cycles, paddingInner: 0.62, paddingOuter: 0.31},
  y: {domain: [0, 1595]},
  marks: [
    wallsMark,
    Plot.ruleY(cycleTimeTicks.filter((d) => d > 0), {dx: DX, dy: DY, stroke: "#8a8a8a"}),
    floorMark,
    Plot.dot(barRows, {x: "cycle", y: () => 0, symbol: capSymbol, r: 5.1, fill: "#e8842e", stroke: "#b85f18", strokeWidth: 0.5, dx: BX, dy: BY}),
    Plot.barY(barRows, {x: "cycle", y: "time", fill: "url(#cylinder)", stroke: "#c06418", strokeWidth: 0.5, dx: BX, dy: BY}),
    Plot.dot(barRows, {x: "cycle", y: "time", symbol: capSymbol, r: 5.1, fill: "#f8ad68", stroke: "#c06418", strokeWidth: 0.6, dx: BX, dy: BY}),
    Plot.axisY(cycleTimeTicks, {tickSize: 5, tickPadding: 3, stroke: "#777", fill: "#222", tickFormat: d3.format("d"), label: null}),
    Plot.axisX({tickSize: 0, tickPadding: 18, fill: "#222", label: null})
  ]
});
const defs = d3.select(svgF).insert("defs", ":first-child");
const grad = defs.append("linearGradient").attr("id", "cylinder").attr("x1", 0).attr("x2", 1).attr("y1", 0).attr("y2", 0);
grad.append("stop").attr("offset", "0%").attr("stop-color", "#d7762a");
grad.append("stop").attr("offset", "35%").attr("stop-color", "#fbab5e");
grad.append("stop").attr("offset", "70%").attr("stop-color", "#f39037");
grad.append("stop").attr("offset", "100%").attr("stop-color", "#d2701f");
place(svgF, 865, 390);

// ---------------------------------------------------------------------------
// Legend (between the two rows)
const legend = d3.create("svg").attr("width", 1288).attr("height", 70).style("overflow", "visible");
const legendSlots = [[114, 27], [291, 27], [487, 27], [677, 27], [860, 27], [1050, 27], [114, 57], [291, 57], [487, 57], [677, 57]];
materials.forEach((m, i) => {
  const [x, y] = legendSlots[i];
  const g = legend.append("g").attr("transform", `translate(${x},${y})`);
  g.append("line").attr("x1", 0).attr("x2", 50).attr("stroke", lineColors[i]).attr("stroke-width", 1.5);
  g.append("path").attr("d", d3.symbol(symbols[i], Math.PI * 5.4 * 5.4)())
    .attr("transform", `translate(25,0) rotate(${rotations[i]})`).attr("fill", markerColors[i]);
  g.append("text").attr("x", 57).attr("dy", "0.36em").attr("font-size", 20).attr("fill", "#000").text(m);
});
place(legend.node(), 0, 320);

// ---------------------------------------------------------------------------
// Panel letters, axis titles and annotations
const CA = '<i>C</i><sub>A</sub>/<i>C</i><sub>0</sub>';
const TAU = 'Dimensionless breakthrough time, τ<sub>break</sub>';
note("a", 11, 18, {size: 29, weight: "bold", anchor: "start"});
note("b", 458, 30, {size: 29, weight: "bold", anchor: "start"});
note("c", 876, 23, {size: 29, weight: "bold", anchor: "start"});
note("d", 23, 402, {size: 29, weight: "bold", anchor: "start"});
note("e", 464, 408, {size: 29, weight: "bold", anchor: "start"});
note("f", 887, 402, {size: 29, weight: "bold", anchor: "start"});

note("Total gas pressure, kPa", 269, 307);
note("IAST selectivity", 28, 161, {rotate: -90});
note("UTSA-200a", 344, 57, {size: 17});
note("SIFSIX-2-Cu-i", 350, 151, {size: 17});

note("Total gas pressure, kPa", 689, 307);
note("C<sub>2</sub>H<sub>2</sub> uptake (mol kg<sup>-1</sup>)", 460, 151, {rotate: -90});
note("UTSA-200a", 782, 74, {size: 17});
note("SIFSIX-2-Cu-i", 773, 148, {size: 17});
note("SIFSIX-1-Cu", 778, 199, {size: 17});

note(TAU, 1101, 309);
note(CA, 880, 156, {rotate: -90});
note("SIFSIX-2-Cu-i", 1032, 152, {size: 17, rotate: -90});
note("UTSA-200a", 1212, 153, {size: 17, rotate: -90});

note(TAU, 262, 700);
note("C<sub>2</sub>H<sub>2</sub> capture (mmol L<sup>-1</sup>)", 30, 540, {rotate: -90});
note("UTSA-200a", 432, 434, {anchor: "end", color: "#ee2b2b"});
note("SIFSIX-2-Cu-i", 180, 557, {anchor: "start"});
note("NOTT-300", 99, 563, {anchor: "start", color: "#8c1616"});
note("UTSA-100a", 106, 599, {anchor: "start", color: "#44c040"});
note("SIFSIX-1-Cu", 138, 623, {anchor: "start", color: "#3552bd"});
note("SIFSIX-3-Zn", 132, 643, {anchor: "start", color: "#c152c1"});

note("Time (min/g)", 683, 702);
note(CA, 468, 528, {rotate: -90});
note("C<sub>2</sub>H<sub>4</sub>", 610, 431);
note("C<sub>2</sub>H<sub>2</sub>", 604, 640);
note("SIFSIX-3-Zn", 549, 548, {size: 17, rotate: -79});
note("SIFSIX-1-Cu", 582, 549, {size: 17, rotate: -62.6});
note("SIFSIX-2-Cu-i", 659, 549, {size: 17, rotate: -63.4});
note("UTSA-200a", 749, 556, {size: 17, rotate: -67});

note("Breakthrough time (min/g)", 880, 535, {size: 19.5, rotate: -90});
note("Cycles", 1115, 701, {size: 19.5});
</script>
</body>
</html>
